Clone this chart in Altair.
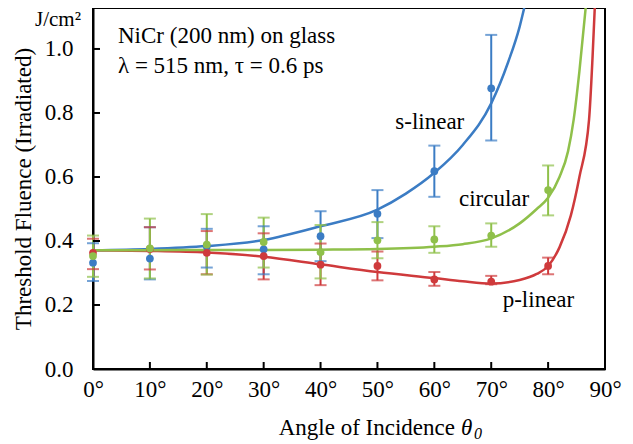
import altair as alt
import pandas as pd

# ---------------- data ----------------
series = ["s-linear", "circular", "p-linear"]
colors = ["#3b7cc4", "#8fc04a", "#cf3a3c"]

angles = [0, 10, 20, 30, 40, 50, 60, 70, 80]

s_val = [0.332, 0.345, 0.383, 0.374, 0.415, 0.485, 0.618, 0.877]
s_lo = [0.275, 0.280, 0.317, 0.296, 0.337, 0.409, 0.538, 0.714]
s_hi = [0.393, 0.443, 0.438, 0.446, 0.493, 0.559, 0.698, 1.044]

c_val = [0.353, 0.377, 0.389, 0.397, 0.365, 0.402, 0.405, 0.417, 0.559]
c_lo = [0.288, 0.283, 0.295, 0.317, 0.283, 0.346, 0.363, 0.382, 0.480]
c_hi = [0.417, 0.470, 0.484, 0.473, 0.450, 0.459, 0.446, 0.455, 0.636]

p_val = [0.363, 0.375, 0.363, 0.353, 0.326, 0.322, 0.280, 0.273, 0.322]
p_lo = [0.312, 0.311, 0.296, 0.280, 0.262, 0.277, 0.260, 0.265, 0.296]
p_hi = [0.407, 0.443, 0.431, 0.424, 0.392, 0.367, 0.303, 0.291, 0.348]

# fitted curves (each ends where it leaves the top of the frame)
s_curve_ang = [0, 10, 20, 30, 40, 50, 55, 60, 65, 70, 73, 75, 75.8]
s_curve_val = [0.371, 0.375, 0.384, 0.403, 0.446, 0.498, 0.548, 0.613, 0.700, 0.830, 0.960, 1.070, 1.128]

c_curve_ang = [0, 10, 20, 30, 40, 50, 60, 65, 70, 75, 78, 80, 82, 83.5, 84.5, 85.5, 86.6]
c_curve_val = [0.371, 0.371, 0.372, 0.372, 0.373, 0.375, 0.382, 0.390, 0.408, 0.455, 0.500, 0.535, 0.600, 0.680, 0.780, 0.930, 1.128]

p_curve_ang = [0, 10, 20, 30, 40, 50, 60, 65, 70, 75, 78, 80, 82, 84, 85.5, 87.2, 87.8, 88.2]
p_curve_val = [0.371, 0.369, 0.364, 0.351, 0.327, 0.303, 0.284, 0.274, 0.267, 0.278, 0.297, 0.322, 0.380, 0.480, 0.600, 0.780, 0.970, 1.128]

label_text = ["s-linear", "circular", "p-linear"]
label_ang = [59.2, 70.5, 78.3]
label_val = [0.773, 0.530, 0.215]

x_ticks = [0, 10, 20, 30, 40, 50, 60, 70, 80, 90]
y_ticks = [0.0, 0.2, 0.4, 0.6, 0.8, 1.0]

note_lines = ["NiCr (200 nm) on glass", "λ = 515 nm, τ = 0.6 ps"]

# ---------------- tables ----------------
pts = []
for name, vals, lo, hi in [("s-linear", s_val, s_lo, s_hi),
                           ("p-linear", p_val, p_lo, p_hi),
                           ("circular", c_val, c_lo, c_hi)]:
    for a, v, l, h in zip(angles, vals, lo, hi):
        pts.append({"series": name, "angle": a, "value": v, "lo": l, "hi": h})
pts = pd.DataFrame(pts)

cur = []
for name, aa, vv in [("s-linear", s_curve_ang, s_curve_val),
                     ("p-linear", p_curve_ang, p_curve_val),
                     ("circular", c_curve_ang, c_curve_val)]:
    for a, v in zip(aa, vv):
        cur.append({"series": name, "angle": a, "value": v})
cur = pd.DataFrame(cur)

labels = pd.DataFrame({"series": series, "text": label_text, "angle": label_ang, "value": label_val})

FONT = "Liberation Serif"
W, H = 512, 361
xs = alt.Scale(domain=[0, 90], nice=False)
ys = alt.Scale(domain=[0, 1.128], nice=False)
col = alt.Color("series:N", scale=alt.Scale(domain=series, range=colors), legend=None)

xaxis = alt.Axis(values=x_ticks, labelExpr="datum.value + '°'", tickSize=0, grid=False,
                 domainColor="black", domainWidth=2, labelFont=FONT, labelFontSize=23,
                 labelColor="black", labelPadding=9, title=None, labelFlush=False)
yaxis = alt.Axis(values=y_ticks, format=".1f", tickSize=0, grid=False,
                 domainColor="black", domainWidth=2, labelFont=FONT, labelFontSize=23,
                 labelColor="black", labelPadding=20, labelFlush=False,
                 title="Threshold Fluence (Irradiated)",
                 titleFont=FONT, titleFontSize=23, titleFontWeight="normal", titleColor="black",
                 titlePadding=9)

base_x = alt.X("angle:Q", scale=xs, axis=xaxis)
base_y = alt.Y("value:Q", scale=ys, axis=yaxis)

lines = alt.Chart(cur).mark_line(strokeWidth=2.5, interpolate="monotone").encode(
    x=base_x, y=base_y, color=col, detail="series:N")

err = alt.Chart(pts).mark_rule(strokeWidth=2).encode(
    x="angle:Q", y=alt.Y("lo:Q", scale=ys), y2="hi:Q", color=col)
cap_lo = alt.Chart(pts).mark_tick(orient="horizontal", size=12, thickness=2).encode(
    x="angle:Q", y=alt.Y("lo:Q", scale=ys), color=col)
cap_hi = alt.Chart(pts).mark_tick(orient="horizontal", size=12, thickness=2).encode(
    x="angle:Q", y=alt.Y("hi:Q", scale=ys), color=col)
dots = alt.Chart(pts).mark_circle(size=60, opacity=1).encode(
    x="angle:Q", y="value:Q", color=col)

lab = alt.Chart(labels).mark_text(font=FONT, fontSize=23, color="black").encode(
    x="angle:Q", y="value:Q", text="text:N")

xt = alt.Chart(pd.DataFrame({"t": x_ticks[1:-1]})).mark_rule(color="black", strokeWidth=2).encode(
    x=alt.X("t:Q", scale=xs), y=alt.value(H), y2=alt.value(H - 7))
yt = alt.Chart(pd.DataFrame({"t": y_ticks[1:]})).mark_rule(color="black", strokeWidth=2).encode(
    y=alt.Y("t:Q", scale=ys), x=alt.value(0), x2=alt.value(7))

notes1 = alt.Chart(pd.DataFrame({"t": [note_lines[0]]})).mark_text(
    font=FONT, fontSize=23, align="left", baseline="middle", color="black").encode(
    x=alt.value(25), y=alt.value(28), text="t:N")
notes2 = alt.Chart(pd.DataFrame({"t": [note_lines[1]]})).mark_text(
    font=FONT, fontSize=23, align="left", baseline="middle", color="black").encode(
    x=alt.value(25), y=alt.value(58), text="t:N")

unit = alt.Chart(pd.DataFrame({"t": ["J/cm²"]})).mark_text(
    font=FONT, fontSize=21, align="right", baseline="middle", color="black").encode(
    x=alt.value(-12), y=alt.value(12), text="t:N")

TY = H + 59
xt1 = alt.Chart(pd.DataFrame({"t": ["Angle of Incidence"]})).mark_text(
    font=FONT, fontSize=23, align="right", baseline="middle", color="black").encode(
    x=alt.value(362), y=alt.value(TY), text="t:N")
xt2 = alt.Chart(pd.DataFrame({"t": ["θ"]})).mark_text(
    font=FONT, fontSize=23, fontStyle="italic", align="left", baseline="middle", color="black").encode(
    x=alt.value(368), y=alt.value(TY), text="t:N")
xt3 = alt.Chart(pd.DataFrame({"t": ["0"]})).mark_text(
    font=FONT, fontSize=16, fontStyle="italic", align="left", baseline="middle", color="black").encode(
    x=alt.value(381), y=alt.value(TY + 6), text="t:N")

chart = alt.layer(lines, err, cap_lo, cap_hi, dots, lab, xt, yt, notes1, notes2, unit, xt1, xt2, xt3).properties(
    width=W, height=H,
    autosize=alt.AutoSizeParams(type="none"),
    padding={"left": 85, "top": 0, "right": 20, "bottom": 75},
).configure_view(stroke="black", strokeWidth=2)

chart.save("out.html", embed_options={"renderer": "svg", "actions": False})
